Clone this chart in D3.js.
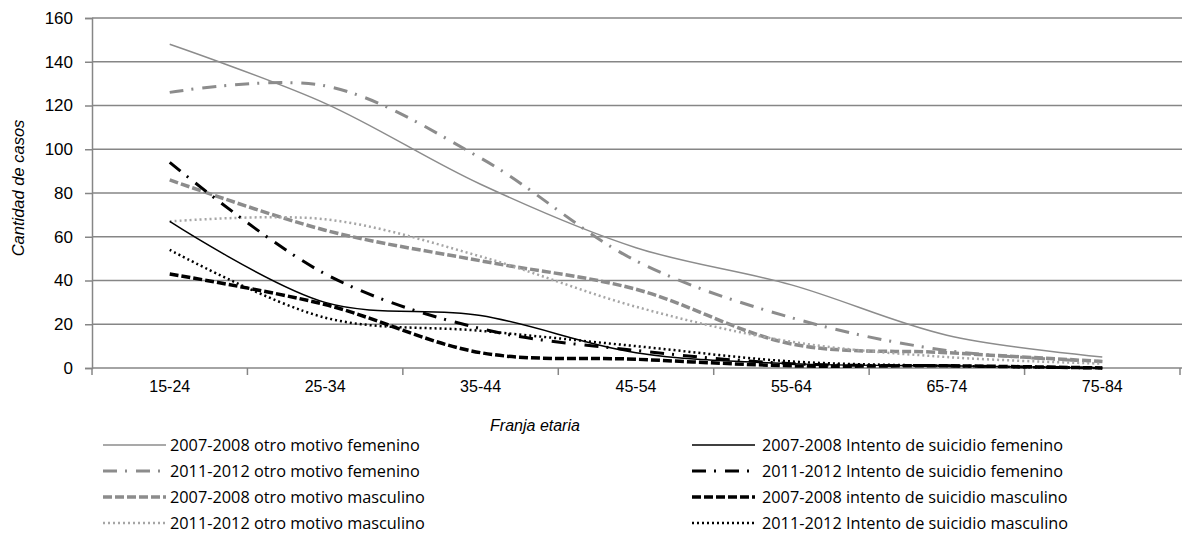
<!DOCTYPE html>
<html>
<head>
<meta charset="utf-8">
<script src="https://cdn.jsdelivr.net/npm/d3@7"></script>
<style>
  body { margin: 0; background: #fff; }
  svg { display: block; }
</style>
</head>
<body>
<script>
const categories = ["15-24", "25-34", "35-44", "45-54", "55-64", "65-74", "75-84"];

const otroFem0708 = [148, 121, 84, 55, 38, 15, 5];
const otroFem1112 = [126, 129, 96, 49, 23, 8, 3];
const otroMasc0708 = [86, 63, 49, 36, 11, 7, 3];
const otroMasc1112 = [67, 68, 51, 28, 12, 5, 2];
const intentoFem0708 = [67, 30, 24, 7, 2, 1, 0];
const intentoFem1112 = [94, 43, 18, 8, 2, 1, 0];
const intentoMasc0708 = [43, 29, 7, 4, 1, 1, 0];
const intentoMasc1112 = [54, 23, 17, 10, 3, 1, 0];

const yTicks = [0, 20, 40, 60, 80, 100, 120, 140, 160];

const series = [
  {name: "2007-2008 otro motivo femenino", values: otroFem0708, color: "#8c8c8c", width: 1.5, dash: null, col: 0},
  {name: "2011-2012 otro motivo femenino", values: otroFem1112, color: "#8c8c8c", width: 3, dash: "14,8,2,9", col: 0},
  {name: "2007-2008 otro motivo masculino", values: otroMasc0708, color: "#8c8c8c", width: 3.5, dash: "9,3", col: 0},
  {name: "2011-2012 otro motivo masculino", values: otroMasc1112, color: "#a6a6a6", width: 2.5, dash: "2,3", col: 0},
  {name: "2007-2008 Intento de suicidio femenino", values: intentoFem0708, color: "#000", width: 1.5, dash: null, col: 1},
  {name: "2011-2012 Intento de suicidio femenino", values: intentoFem1112, color: "#000", width: 3, dash: "14,8,2,9", col: 1},
  {name: "2007-2008 intento de suicidio masculino", values: intentoMasc0708, color: "#000", width: 3.5, dash: "9,3", col: 1},
  {name: "2011-2012 Intento de suicidio masculino", values: intentoMasc1112, color: "#000", width: 2.5, dash: "2,3", col: 1}
];

const width = 1182, height = 540;
const margin = {top: 18, right: 0, bottom: 172, left: 92};
const plotBottom = height - margin.bottom;
const font = "Liberation Sans, Arial, sans-serif";

const svg = d3.select("body").append("svg")
    .attr("width", width)
    .attr("height", height);

const x = d3.scaleBand()
    .domain(categories)
    .range([margin.left, width - 2]);

const y = d3.scaleLinear()
    .domain([0, 160])
    .range([plotBottom, margin.top]);

// gridlines
svg.append("g")
    .attr("stroke", "#868686")
    .attr("stroke-width", 1.5)
  .selectAll("line")
  .data(yTicks.filter(d => d > 0))
  .join("line")
    .attr("x1", margin.left)
    .attr("x2", width)
    .attr("y1", d => y(d))
    .attr("y2", d => y(d));

// y axis
const yAxis = svg.append("g")
    .attr("transform", `translate(${margin.left},0)`)
    .call(d3.axisLeft(y).tickValues(yTicks).tickSize(7).tickPadding(12));
yAxis.select(".domain").attr("stroke", "#868686").attr("stroke-width", 1.5);
yAxis.selectAll(".tick line").attr("stroke", "#868686").attr("stroke-width", 1.5);
yAxis.selectAll("text")
    .attr("font-family", font)
    .attr("font-size", 17)
    .attr("fill", "#000");

// x axis
const xAxis = svg.append("g")
    .attr("transform", `translate(0,${plotBottom})`)
    .call(d3.axisBottom(x).tickSize(0).tickPadding(13));
xAxis.select(".domain").remove();
xAxis.selectAll("text")
    .attr("font-family", font)
    .attr("font-size", 16)
    .attr("fill", "#000");

svg.append("line")
    .attr("x1", margin.left).attr("x2", width)
    .attr("y1", plotBottom).attr("y2", plotBottom)
    .attr("stroke", "#868686").attr("stroke-width", 1.5);

const tickXs = categories.map(c => x(c)).concat([x(categories[categories.length - 1]) + x.bandwidth()]);
svg.append("g")
    .attr("stroke", "#868686")
    .attr("stroke-width", 1.5)
  .selectAll("line")
  .data(tickXs)
  .join("line")
    .attr("x1", d => d).attr("x2", d => d)
    .attr("y1", plotBottom).attr("y2", plotBottom + 7);

// lines
const line = d3.line()
    .x((d, i) => x(categories[i]) + x.bandwidth() / 2)
    .y(d => y(d))
    .curve(d3.curveCatmullRom);

svg.append("g")
    .attr("fill", "none")
  .selectAll("path")
  .data(series)
  .join("path")
    .attr("d", d => line(d.values))
    .attr("stroke", d => d.color)
    .attr("stroke-width", d => d.width)
    .attr("stroke-dasharray", d => d.dash);

// axis titles
svg.append("text")
    .attr("transform", `translate(24,${(margin.top + plotBottom) / 2 - 5}) rotate(-90)`)
    .attr("text-anchor", "middle")
    .attr("font-family", font)
    .attr("font-style", "italic")
    .attr("font-size", 16.5)
    .text("Cantidad de casos");

svg.append("text")
    .attr("x", 535)
    .attr("y", 431)
    .attr("text-anchor", "middle")
    .attr("font-family", font)
    .attr("font-style", "italic")
    .attr("font-size", 16)
    .text("Franja etaria");

// legend
const legendCols = [{x0: 103, x1: 166, tx: 170}, {x0: 692, x1: 755, tx: 762}];
const legend = svg.append("g")
  .selectAll("g")
  .data(series)
  .join("g")
    .attr("transform", (d, i) => `translate(0,${445 + (i % 4) * 26})`);

legend.append("line")
    .attr("x1", d => legendCols[d.col].x0)
    .attr("x2", d => legendCols[d.col].x1)
    .attr("stroke", d => d.color)
    .attr("stroke-width", d => d.width)
    .attr("stroke-dasharray", d => d.dash);

legend.append("text")
    .attr("x", d => legendCols[d.col].tx)
    .attr("dy", "0.36em")
    .attr("font-family", "Open Sans, sans-serif")
    .attr("font-size", 16.3)
    .attr("fill", "#000")
    .text(d => d.name);
</script>
</body>
</html>
